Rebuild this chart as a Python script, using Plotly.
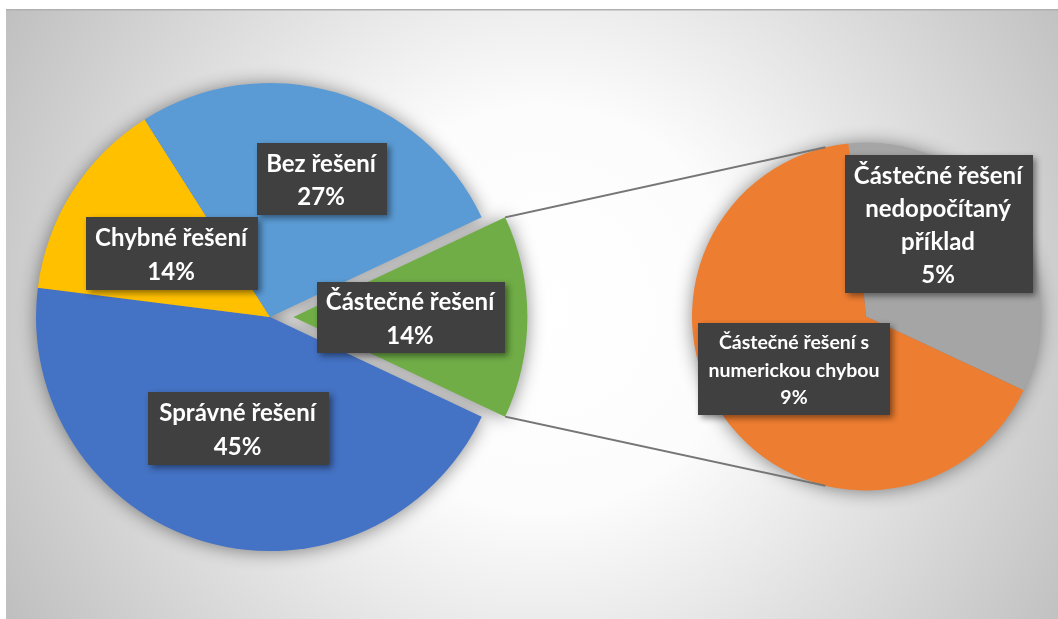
import base64
import math
import plotly.graph_objects as go

W, H = 1058, 619

# main pie
main_labels = ["Správné řešení", "Chybné řešení", "Bez řešení", "Částečné řešení"]
main_values = [45, 14, 27, 14]
main_colors = ["#4472C4", "#FFC000", "#5B9BD5", "#70AD47"]

# breakdown of "Částečné řešení"
sub_labels = ["Částečné řešení nedopočítaný příklad", "Částečné řešení s numerickou chybou"]
sub_values = [4.7, 9.3]
sub_colors = ["#A5A5A5", "#ED7D31"]

# how the label text is wrapped in the boxes
wrapped = {
    "Částečné řešení nedopočítaný příklad": ["Částečné řešení", "nedopočítaný", "příklad"],
    "Částečné řešení s numerickou chybou": ["Částečné řešení s", "numerickou chybou"],
}

# geometry (pixels)
main_cx, main_cy, main_r = 270, 317, 234
pull = 0.1
sub_cx, sub_cy, sub_r = 866, 316.5, 174


def domain(cx, cy, r, p=0.0):
    half = r * (1 + p)
    return dict(x=[(cx - half) / W, (cx + half) / W],
                y=[(H - cy - half) / H, (H - cy + half) / H])


def pt(cx, cy, r, ang):
    # angle clockwise from 12 o'clock
    a = math.radians(ang)
    return cx + r * math.sin(a), cy - r * math.cos(a)


def paper(x, y):
    return x / W, 1 - y / H


total = sum(main_values)
before = sum(main_values[:-1])
# last slice centred at 3 o'clock
main_rot = (90 - 360 * (before + main_values[-1] / 2) / total) % 360
g0 = main_rot + 360 * before / total
g1 = g0 + 360 * main_values[-1] / total
gx, gy = pt(main_cx, main_cy, pull * main_r, (g0 + g1) / 2)

fig = go.Figure()
fig.add_trace(go.Pie(
    labels=main_labels, values=main_values, sort=False, direction="clockwise",
    rotation=main_rot, marker=dict(colors=main_colors, line=dict(width=0)),
    pull=[0, 0, 0, pull], textinfo="none", hoverinfo="label+percent",
    domain=domain(main_cx, main_cy, main_r, pull), showlegend=False,
))
fig.add_trace(go.Pie(
    labels=sub_labels, values=sub_values, sort=False, direction="clockwise",
    rotation=-5.8, marker=dict(colors=sub_colors, line=dict(width=0)),
    textinfo="none", hoverinfo="label",
    domain=domain(sub_cx, sub_cy, sub_r), showlegend=False,
))

# connector lines
shapes = []
for a_main, a_sub in [(g0, -13.5), (g1, 193.5)]:
    x0, y0 = pt(gx, gy, main_r, a_main)
    x1, y1 = pt(sub_cx, sub_cy, sub_r, a_sub)
    (px0, py0), (px1, py1) = paper(x0, y0), paper(x1, y1)
    shapes.append(dict(type="line", xref="paper", yref="paper", x0=px0, y0=py0, x1=px1, y1=py1,
                       line=dict(color="#767676", width=2)))


def box(lines, pct, cx, cy, w, h, size, spacing):
    body = "<br>".join(f'<span style="font-size:{size}px">{t}</span>' for t in lines + [pct])
    x, y = paper(cx, cy)
    return dict(text=body, x=x, y=y, xref="paper", yref="paper", xanchor="center", yanchor="middle",
                showarrow=False, width=w, height=h, bgcolor="#404040", borderwidth=0, borderpad=0,
                align="center", valign="middle",
                font=dict(family="Lato", size=spacing, color="white", weight="bold"))


def pct(v, tot):
    return f"{100 * v / tot:.0f}%"


annotations = [
    box([main_labels[2]], pct(main_values[2], total), 322, 179, 130, 72, 24, 25.5),
    box([main_labels[1]], pct(main_values[1], total), 172, 253.5, 172, 73, 24, 25.5),
    box([main_labels[3]], pct(main_values[3], total), 411, 317.5, 188, 71, 24, 25.5),
    box([main_labels[0]], pct(main_values[0], total), 238, 428, 181, 73, 24, 25.5),
    box(wrapped[sub_labels[0]], pct(sub_values[0], total), 939, 224, 188, 138, 24, 25.5),
    box(wrapped[sub_labels[1]], pct(sub_values[1], total), 794, 369, 192, 92, 19.5, 21),
]

# radial gradient backdrop
bg_w, bg_h = 1052, 610
svg = (
    f'<svg xmlns="http://www.w3.org/2000/svg" width="{bg_w}" height="{bg_h}">'
    '<defs><radialGradient id="g" gradientUnits="userSpaceOnUse" cx="535" cy="300" r="610">'
    '<stop offset="0" stop-color="#ffffff"/><stop offset="0.33" stop-color="#fcfcfc"/>'
    '<stop offset="1" stop-color="#c0c0c0"/></radialGradient></defs>'
    f'<rect width="{bg_w}" height="{bg_h}" fill="url(#g)"/>'
    f'<rect width="{bg_w}" height="1.5" fill="#b0b0b0"/></svg>'
)
src = "data:image/svg+xml;base64," + base64.b64encode(svg.encode()).decode()

fig.update_layout(
    width=W, height=H, margin=dict(l=0, r=0, t=0, b=0),
    paper_bgcolor="white", plot_bgcolor="white",
    shapes=shapes, annotations=annotations,
    images=[dict(source=src, xref="paper", yref="paper", x=6 / W, y=1 - 9 / H,
                 sizex=bg_w / W, sizey=bg_h / H, xanchor="left", yanchor="top",
                 sizing="stretch", layer="below")],
)

post = """
document.body.style.margin = '0';
function fx() {
  document.querySelectorAll('.pielayer .trace').forEach(function (t) {
    t.style.filter = 'drop-shadow(0px 1px 9px rgba(0,0,0,0.45))';
  });
  document.querySelectorAll('.annotation').forEach(function (a) {
    a.style.filter = 'drop-shadow(3px 3px 3px rgba(0,0,0,0.45))';
  });
}
fx();
setTimeout(fx, 50);
"""

fig.write_html("out.html", post_script=post, config=dict(displayModeBar=False))
